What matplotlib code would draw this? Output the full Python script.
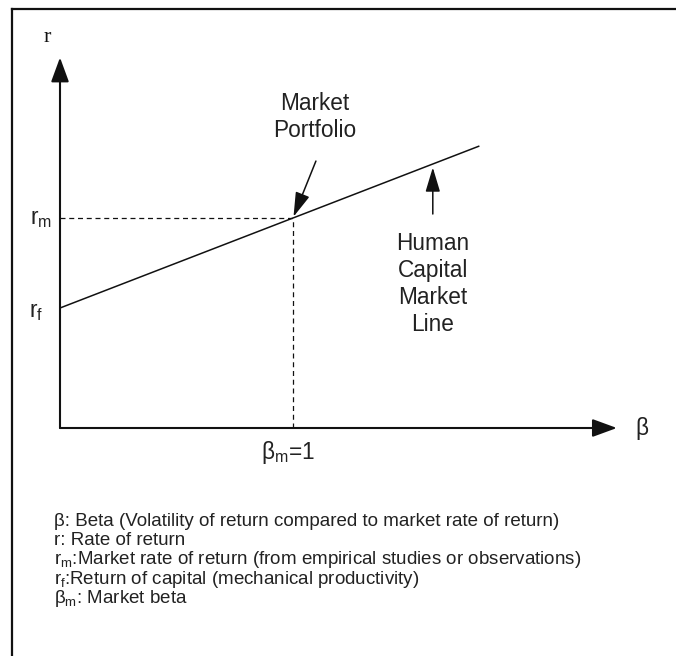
import matplotlib
matplotlib.use("Agg")
import matplotlib.pyplot as plt
from matplotlib.lines import Line2D

plt.rcParams["font.family"] = ["Liberation Sans", "DejaVu Sans"]
plt.rcParams["mathtext.fontset"] = "custom"
plt.rcParams["mathtext.rm"] = "Liberation Sans"
plt.rcParams["mathtext.it"] = "Liberation Sans"

_INK = "#111111"
_TEXT = "#222222"

# Conceptual diagram values (beta on x, rate of return on y)
r_f = 0.40
r_m = 0.70
beta_m = 1.0
beta_line_end = 1.80
beta_axis_end = 2.39
r_axis_end = 1.235
beta_human_arrow = 1.60

legend_lines = [
    r"β: Beta (Volatility of return compared to market rate of return)",
    r"r: Rate of return",
    r"r$_{\rm m}$:Market rate of return (from empirical studies or observations)",
    r"r$_{\rm f}$:Return of capital (mechanical productivity)",
    r"β$_{\rm m}$: Market beta",
]


def cml(b):
    return r_f + (r_m - r_f) * b


W, H, DPI = 676, 656, 100
fig = plt.figure(figsize=(W / DPI, H / DPI), dpi=DPI)
ax = fig.add_axes([0, 0, 1, 1])
ax.set_axis_off()

# pixel layout: origin at (60, 428), 233 px per beta unit, 300 px per r unit
ox, oy, sx, sy = 60, 428, 233.0, 300.0
ax.set_xlim(-ox / sx, (W - ox) / sx)
ax.set_ylim(-(H - oy) / sy, oy / sy)

# outer frame (only top and left edges are visible)
fig.add_artist(Line2D([12 / W, 12 / W], [0, 1 - 9 / H], transform=fig.transFigure,
                      color=_INK, lw=1.6))
fig.add_artist(Line2D([12 / W, 1], [1 - 9 / H, 1 - 9 / H], transform=fig.transFigure,
                      color=_INK, lw=1.6))

# axes with arrowheads
axis_arrow = dict(arrowstyle="-|>,head_length=1.5,head_width=0.55", color=_INK,
                  lw=1.5, mutation_scale=10, shrinkA=0, shrinkB=0)
ax.annotate("", xy=(0, r_axis_end), xytext=(0, 0), arrowprops=axis_arrow)
ax.annotate("", xy=(beta_axis_end, 0), xytext=(0, 0), arrowprops=axis_arrow)

# capital market line
ax.plot([0, beta_line_end], [cml(0), cml(beta_line_end)], color=_INK, lw=1.1,
        solid_capstyle="butt")

# dashed guides to the market portfolio
ax.plot([0, beta_m], [r_m, r_m], color=_INK, lw=0.9, ls=(0, (4, 3)))
ax.plot([beta_m, beta_m], [0, r_m], color=_INK, lw=0.9, ls=(0, (4, 3)))

# labels on axes
ax.text(-13 / sx, r_axis_end + 20 / sy, "r", family="Liberation Serif", fontsize=16,
        ha="center", va="center", color=_INK)
ax.text(beta_axis_end + 25 / sx, 0, "β", fontsize=16.3, ha="center", va="center",
        color=_TEXT)
ax.text(-8 / sx, r_m, r"r$_{\rm m}$", fontsize=16.3, ha="right", va="center",
        color=_TEXT)
ax.text(-17 / sx, r_f - 4 / sy, r"r$_{\rm f}$", fontsize=16.3, ha="right", va="center",
        color=_TEXT)
ax.text(beta_m - 5 / sx, -24 / sy, r"β$_{\rm m}$=1", fontsize=16.3, ha="center",
        va="center", color=_TEXT)

# annotations
head = dict(arrowstyle="-|>,head_length=1.5,head_width=0.45", color=_INK, lw=1.1,
            mutation_scale=10, shrinkA=0)
ax.annotate("", xy=(beta_m, r_m), xytext=(16.5, 41), textcoords="offset points",
            arrowprops=dict(head, shrinkB=1))
ax.text(beta_m + 22 / sx, r_m + 101 / sy, "Market\nPortfolio", fontsize=16.3,
        ha="center", va="center", linespacing=1.2, color=_TEXT)

ax.annotate("", xy=(beta_human_arrow, cml(beta_human_arrow)), xytext=(0, -36),
            textcoords="offset points", arrowprops=dict(head, shrinkB=2.5))
ax.text(beta_human_arrow, cml(beta_human_arrow) - 68 / sy,
        "Human\nCapital\nMarket\nLine", fontsize=16.3, ha="center", va="top",
        linespacing=1.22, color=_TEXT)

# legend block
for i, line in enumerate(legend_lines):
    fig.text(54 / W, 1 - (521 + 19.4 * i) / H, line, fontsize=13.5, ha="left",
             va="center", color=_TEXT)

fig.savefig("out.png", dpi=DPI, facecolor="white")
